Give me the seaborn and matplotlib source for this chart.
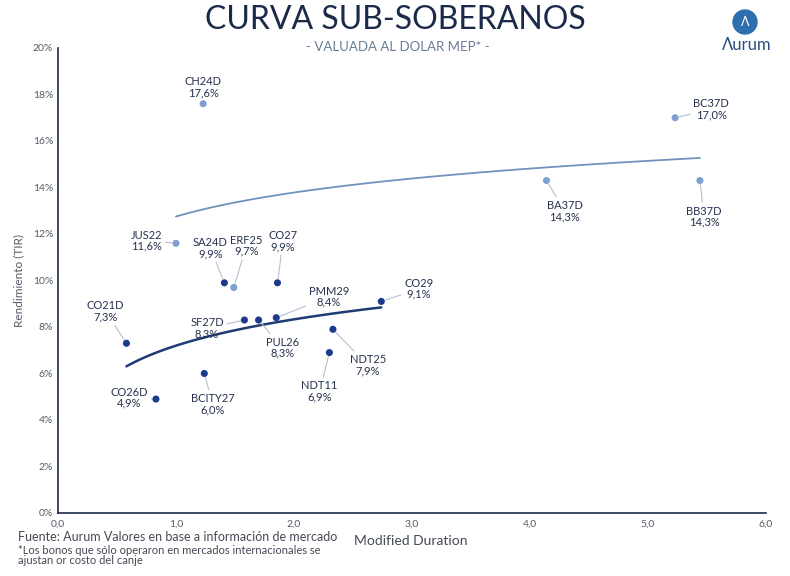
import numpy as np
import pandas as pd
import matplotlib.pyplot as plt
import seaborn as sns
from matplotlib.patches import Ellipse
from matplotlib.ticker import FuncFormatter, MultipleLocator

# Datos
bonos = ['CH24D', 'BC37D', 'BA37D', 'BB37D', 'JUS22', 'ERF25',
         'SA24D', 'CO27', 'PMM29', 'SF27D', 'PUL26', 'CO29',
         'NDT25', 'NDT11', 'CO21D', 'CO26D', 'BCITY27']
duration = [1.23, 5.23, 4.14, 5.44, 1.00, 1.49,
            1.41, 1.86, 1.85, 1.58, 1.70, 2.74,
            2.33, 2.30, 0.58, 0.83, 1.24]
tir = [17.6, 17.0, 14.3, 14.3, 11.6, 9.7,
       9.9, 9.9, 8.4, 8.3, 8.3, 9.1,
       7.9, 6.9, 7.3, 4.9, 6.0]
grupo = ['Internacional'] * 6 + ['Local'] * 11

df = pd.DataFrame({'bono': bonos, 'md': duration, 'tir': tir, 'grupo': grupo})

colores = {'Internacional': '#7f9fd0', 'Local': '#1b3a8c'}
lineas = {'Internacional': '#6f93bd', 'Local': '#1f3b72'}
texto = '#26314d'

# desplazamiento de las etiquetas (puntos)
offsets = {
    'CH24D': (0, 12), 'BC37D': (26, 6), 'BA37D': (13, -22), 'BB37D': (3, -26),
    'JUS22': (-21, 2), 'ERF25': (9, 30), 'SA24D': (-10, 25), 'CO27': (4, 30),
    'PMM29': (38, 15), 'SF27D': (-27, -6), 'PUL26': (17, -20), 'CO29': (27, 9),
    'NDT25': (25, -26), 'NDT11': (-7, -28), 'CO21D': (-15, 23), 'CO26D': (-19, 1),
    'BCITY27': (6, -22),
}

sns.set_style('white')
plt.rcParams['font.family'] = ['Lato', 'DejaVu Sans']

fig = plt.figure(figsize=(7.9, 5.76), dpi=100)
ax = fig.add_axes([0.0734, 0.1094, 0.8962, 0.8073])

# curvas logaritmicas por grupo
for g, sub in df.groupby('grupo'):
    b, a = np.polyfit(np.log(sub['md']), sub['tir'], 1)
    xs = np.linspace(sub['md'].min(), sub['md'].max(), 100)
    ax.plot(xs, a + b * np.log(xs), color=lineas[g],
            lw=1.3 if g == 'Internacional' else 1.8, zorder=1)

sns.scatterplot(data=df, x='md', y='tir', hue='grupo', palette=colores,
                s=26, edgecolor='none', legend=False, ax=ax, zorder=3)

for _, r in df.iterrows():
    dx, dy = offsets[r['bono']]
    lbl = f"{r['bono']}\n{r['tir']:.1f}%".replace('.', ',')
    arrow = None if r['bono'] == 'CH24D' else dict(arrowstyle='-', color='#b5c0d0', lw=0.8,
                                                    shrinkA=0, shrinkB=3)
    ax.annotate(lbl, (r['md'], r['tir']), xytext=(dx, dy), textcoords='offset points',
                ha='center', va='center', fontsize=8, color=texto, linespacing=1.0,
                arrowprops=arrow, zorder=4)

ax.set_xlim(0, 6)
ax.set_ylim(0, 20)
ax.xaxis.set_major_locator(MultipleLocator(1))
ax.yaxis.set_major_locator(MultipleLocator(2))
ax.xaxis.set_major_formatter(FuncFormatter(lambda v, p: f'{v:.1f}'.replace('.', ',')))
ax.yaxis.set_major_formatter(FuncFormatter(lambda v, p: f'{v:.0f}%'))
for s in ['top', 'right']:
    ax.spines[s].set_visible(False)
for s in ['left', 'bottom']:
    ax.spines[s].set_color('#1f2d4d')
    ax.spines[s].set_linewidth(1.2)
ax.tick_params(axis='both', which='major', direction='in', length=3, width=1,
               color='#1f2d4d', labelsize=7.5, labelcolor='#555b66')
ax.tick_params(axis='x', pad=5)
ax.set_xlabel('')
ax.set_ylabel('Rendimiento (TIR)', fontsize=8.5, color='#555b66', labelpad=6)

fig.text(0.5, 0.965, 'CURVA SUB-SOBERANOS', ha='center', va='center',
         fontsize=23, color='#1c2a4a')
fig.text(0.503, 0.918, '- VALUADA AL DOLAR MEP* -', ha='center', va='center',
         fontsize=9.5, color='#6a7d98')
fig.text(0.52, 0.06, 'Modified Duration', ha='center', va='center',
         fontsize=10, color='#444a55')
fig.text(0.023, 0.067, 'Fuente: Aurum Valores en base a información de mercado',
         ha='left', va='center', fontsize=9, color='#444a55')
fig.text(0.023, 0.044, '*Los bonos que sólo operaron en mercados internacionales se',
         ha='left', va='center', fontsize=8, color='#444a55')
fig.text(0.023, 0.027, 'ajustan or costo del canje',
         ha='left', va='center', fontsize=8, color='#444a55')

# logo
fig.patches.append(Ellipse((745 / 790, 1 - 22 / 576), 24 / 790, 24 / 576,
                           transform=fig.transFigure, color='#2e6fb0', zorder=5))
fig.text(745 / 790, 1 - 22 / 576, 'Λ', ha='center', va='center', fontsize=9,
         color='white', zorder=6)
fig.text(747 / 790, 1 - 45 / 576, 'Λurum', ha='center', va='center',
         fontsize=12, color='#2a4c80')

fig.savefig('out.png', dpi=100)
